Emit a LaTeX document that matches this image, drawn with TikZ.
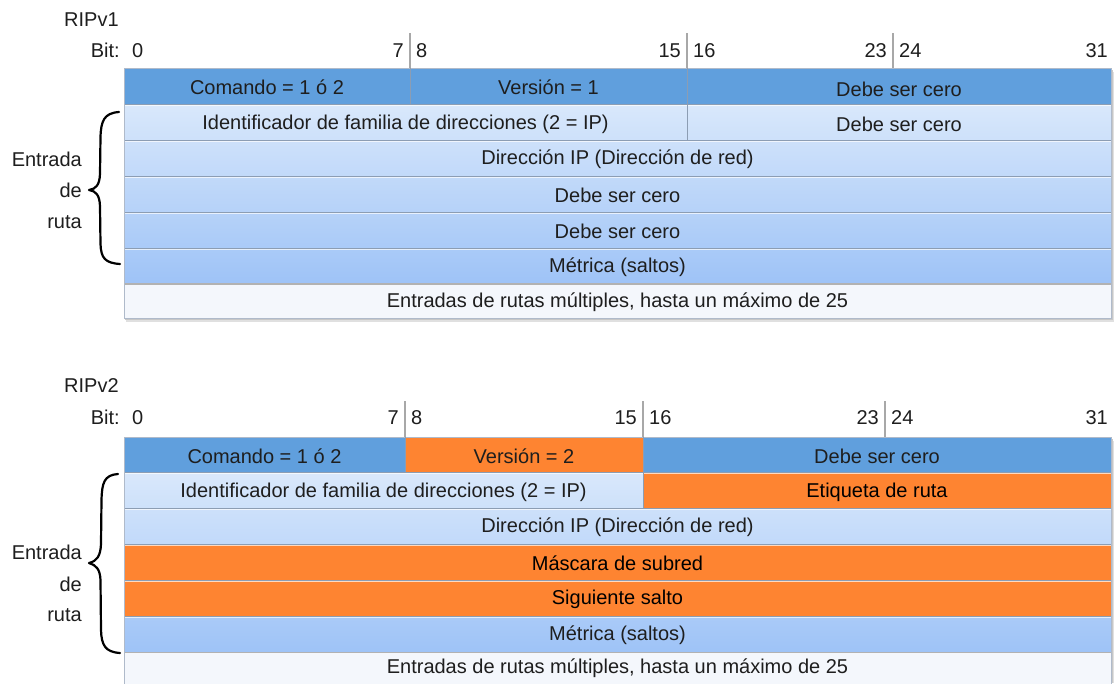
\documentclass[tikz,border=0pt]{standalone}
\usepackage{fontspec}
\setmainfont{Liberation Sans}
\usetikzlibrary{calc}
\definecolor{hdrblue}{HTML}{609FDD}
\definecolor{gradtop}{HTML}{D9E8FB}
\definecolor{gradbot}{HTML}{9EC3F7}
\definecolor{lastrow}{HTML}{F4F7FC}
\definecolor{orng}{HTML}{FE8431}
\definecolor{sepline}{HTML}{8C9DB3}
\definecolor{txt}{HTML}{1E1E1E}
\definecolor{tick}{HTML}{A8A8A8}
\tikzset{
  lbl/.style={inner sep=0pt, text=txt, font=\fontsize{20}{24}\selectfont},
  cell/.style={lbl, anchor=center},
  sep/.style={draw=sepline, line width=0.8pt},
  hl/.style={draw=white, line width=0.7pt, opacity=0.7},
  tickline/.style={draw=tick, line width=1.4pt},
  bracepath/.style={draw=black, line width=2.2pt, line cap=round, line join=round},
}
\begin{document}
\begin{tikzpicture}[x=1pt,y=-1pt]
\useasboundingbox (0,0) rectangle (1114,683);
\fill[white] (0,0) rectangle (1114,683);

% ================= RIPv1 =================
% shadow
\fill[black!12] (126,72) rectangle (1114,322);
\fill[black!22] (125,70) rectangle (1112.5,320);
% header
\fill[hdrblue] (124,68) rectangle (1111,104);
% gradient block
\shade[top color=gradtop, bottom color=gradbot] (124,104) rectangle (1111,284);
% last row
\fill[lastrow] (124,284) rectangle (1111,318);
% separators
\foreach \yy in {104,140,176,212,248} {
  \draw[sep] (124,\yy) -- (1111,\yy);
  \draw[hl] (124,\yy+1.2) -- (1111,\yy+1.2);
}
\draw[draw=black!30, line width=1.8pt] (124,284) -- (1111,284);
\draw[draw=sepline!70, line width=0.5pt] (124,68) rectangle (1111,318);
% dividers and ticks
\draw[tickline] (410,33) -- (410,68);
\draw[draw=sepline, line width=1pt] (410,68) -- (410,104);
\draw[tickline] (687,33) -- (687,68);
\draw[draw=sepline, line width=1pt] (687,68) -- (687,140);
\draw[tickline] (893,33) -- (893,68);

% title and bit labels
\node[lbl, anchor=base west] (t1) at (64,26) {RIPv1};
\node[lbl, anchor=base east] (b1) at (120,57) {Bit:};
\node[lbl, anchor=base west] (b1n0) at (132,57) {0};
\node[lbl, anchor=base east] (b1n7) at (404,57) {7};
\node[lbl, anchor=base west] (b1n8) at (416,57) {8};
\node[lbl, anchor=base east] (b1n15) at (681,57) {15};
\node[lbl, anchor=base west] (b1n16) at (693,57) {16};
\node[lbl, anchor=base east] (b1n23) at (887,57) {23};
\node[lbl, anchor=base west] (b1n24) at (899,57) {24};
\node[lbl, anchor=base east] (b1n31) at (1108,57) {31};

% cells
\node[cell] (v1cmd) at (267,87) {Comando = 1 ó 2};
\node[cell] (v1ver) at (548.5,87) {Versión = 1};
\node[cell] (v1mbz) at (899,89) {Debe ser cero};
\node[cell] (v1afi) at (405.5,124) {Identificador de familia de direcciones (2 = IP)};
\node[cell] (v1mbz2) at (899,124) {Debe ser cero};
\node[cell] (v1ip) at (617.5,159) {Dirección IP (Dirección de red)};
\node[cell] (v1mbz3) at (617.5,195) {Debe ser cero};
\node[cell] (v1mbz4) at (617.5,231) {Debe ser cero};
\node[cell] (v1met) at (617.5,267) {Métrica (saltos)};
\node[cell] (v1mul) at (617.5,302) {Entradas de rutas múltiples, hasta un máximo de 25};

% brace
\draw[bracepath] (119,112) .. controls (104,113) and (101,121) .. (100.5,137)
  -- (100,174) .. controls (99.5,185) and (96,189) .. (89,190)
  .. controls (96,191) and (99.5,195) .. (100,206)
  -- (100.5,244) .. controls (101,258) and (105,263) .. (120,264);
\node[lbl, anchor=east] (e1a) at (82,159) {Entrada};
\node[lbl, anchor=east] (e1b) at (82,190) {de};
\node[lbl, anchor=east] (e1c) at (82,222) {ruta};

% ================= RIPv2 =================
\fill[black!12] (126,441) rectangle (1114,683);
\fill[black!22] (125,439) rectangle (1112.5,683);
\fill[hdrblue] (124,437) rectangle (1111,472.5);
\shade[top color=gradtop, bottom color=gradbot] (124,472.5) rectangle (1111,652.5);
\fill[lastrow] (124,652.5) rectangle (1111,690);
% orange fields
\fill[orng] (405,437) rectangle (643,472.5);
\fill[orng] (643,472.5) rectangle (1111,508.5);
\fill[orng] (124,544.5) rectangle (1111,616.5);
% separators
\foreach \yy in {472.5,508.5,544.5,580.5,616.5} {
  \draw[sep] (124,\yy) -- (1111,\yy);
  \draw[hl] (124,\yy+1.2) -- (1111,\yy+1.2);
}
\draw[draw=black!30, line width=1.8pt] (124,652.5) -- (1111,652.5);
\draw[draw=sepline!70, line width=0.5pt] (124,690) -- (124,437) -- (1111,437) -- (1111,690);
% dividers and ticks
\draw[tickline] (405,401) -- (405,437);
\draw[draw=sepline, line width=1pt] (405,437) -- (405,472.5);
\draw[tickline] (643,401) -- (643,437);
\draw[draw=sepline, line width=1pt] (643,437) -- (643,508.5);
\draw[tickline] (885,401) -- (885,437);

\node[lbl, anchor=base west] (t2) at (64,392) {RIPv2};
\node[lbl, anchor=base east] (b2) at (120,424) {Bit:};
\node[lbl, anchor=base west] (b2n0) at (132,424) {0};
\node[lbl, anchor=base east] (b2n7) at (399,424) {7};
\node[lbl, anchor=base west] (b2n8) at (411,424) {8};
\node[lbl, anchor=base east] (b2n15) at (637,424) {15};
\node[lbl, anchor=base west] (b2n16) at (649,424) {16};
\node[lbl, anchor=base east] (b2n23) at (879,424) {23};
\node[lbl, anchor=base west] (b2n24) at (891,424) {24};
\node[lbl, anchor=base east] (b2n31) at (1108,424) {31};

\node[cell] (v2cmd) at (264.5,456) {Comando = 1 ó 2};
\node[cell] (v2ver) at (524,456) {Versión = 2};
\node[cell] (v2mbz) at (877,456) {Debe ser cero};
\node[cell] (v2afi) at (383.5,492) {Identificador de familia de direcciones (2 = IP)};
\node[cell, text=black] (v2tag) at (877,492) {Etiqueta de ruta};
\node[cell] (v2ip) at (617.5,527) {Dirección IP (Dirección de red)};
\node[cell, text=black] (v2mask) at (617.5,563) {Máscara de subred};
\node[cell, text=black] (v2nh) at (617.5,599) {Siguiente salto};
\node[cell] (v2met) at (617.5,635) {Métrica (saltos)};
\node[cell] (v2mul) at (617.5,668) {Entradas de rutas múltiples, hasta un máximo de 25};

\draw[bracepath] (118,474) .. controls (104,475) and (102,483) .. (101.5,500)
  -- (101,544) .. controls (100.5,556) and (97,561) .. (89,563)
  .. controls (96,565) and (100,569) .. (100.5,580)
  -- (101,630) .. controls (101.5,645) and (105,652) .. (120,653);
\node[lbl, anchor=east] (e2a) at (82,552) {Entrada};
\node[lbl, anchor=east] (e2b) at (82,584) {de};
\node[lbl, anchor=east] (e2c) at (82,615) {ruta};
\end{tikzpicture}
\end{document}
